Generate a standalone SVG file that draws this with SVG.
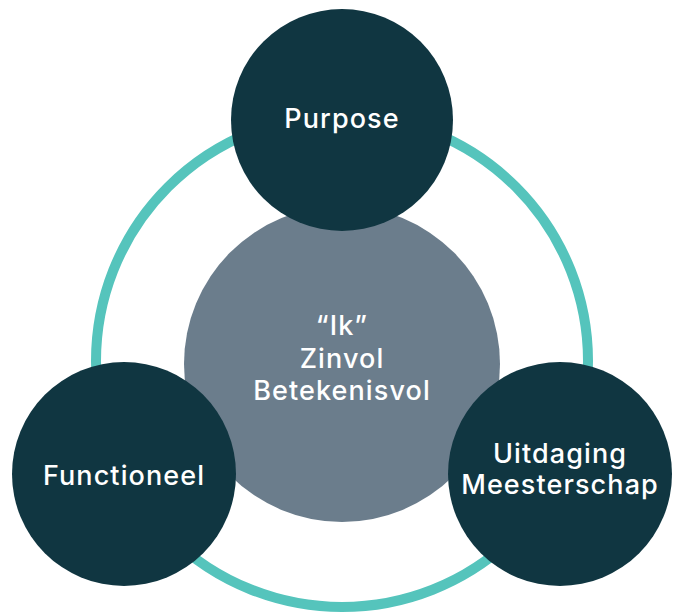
<svg xmlns="http://www.w3.org/2000/svg" width="676" height="614" viewBox="0 0 676 614">
  <style>
    .ring { fill: none; stroke: #55c4bc; stroke-width: 10; }
    .outer { fill: #103641; }
    .core { fill: #6b7d8c; }
    .label { fill: #ffffff; font-family: Inter, "Noto Sans", "Liberation Sans", sans-serif; font-size: 27px; font-weight: 500; letter-spacing: 1.1px; text-anchor: middle; }
  </style>
  <rect width="676" height="614" fill="#ffffff"/>
  <g id="connectors">
    <circle class="ring" cx="342" cy="361" r="246"/>
  </g>
  <g id="node-center">
    <circle class="core" cx="342" cy="364" r="158"/>
    <text class="label" x="342" y="335">“Ik”</text>
    <text class="label" x="342" y="368">Zinvol</text>
    <text class="label" x="342" y="400">Betekenisvol</text>
  </g>
  <g id="node-purpose">
    <circle class="outer" cx="342" cy="120" r="111"/>
    <text class="label" x="342" y="128">Purpose</text>
  </g>
  <g id="node-functioneel">
    <circle class="outer" cx="124" cy="474" r="112"/>
    <text class="label" x="124" y="485">Functioneel</text>
  </g>
  <g id="node-uitdaging">
    <circle class="outer" cx="560" cy="474" r="112"/>
    <text class="label" x="560" y="463">Uitdaging</text>
    <text class="label" x="560" y="494">Meesterschap</text>
  </g>
</svg>
